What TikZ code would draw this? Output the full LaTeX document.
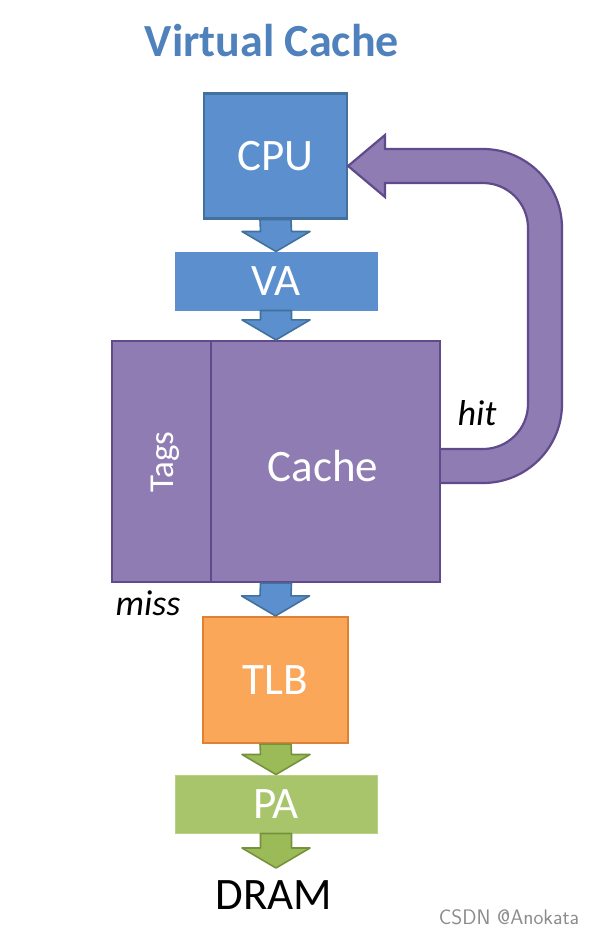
\documentclass[tikz,border=0pt]{standalone}
\usepackage{fontspec}
\setmainfont{Carlito}
\usepackage{tikz}
\usetikzlibrary{positioning,calc}

\definecolor{cpublue}{RGB}{91,143,206}
\definecolor{cpuedge}{RGB}{65,113,156}
\definecolor{titleblue}{RGB}{79,129,189}
\definecolor{cachepurple}{RGB}{142,124,179}
\definecolor{cacheedge}{RGB}{95,75,139}
\definecolor{tlborange}{RGB}{250,167,90}
\definecolor{tlbedge}{RGB}{224,128,50}
\definecolor{pagreen}{RGB}{168,197,108}
\definecolor{paedge}{RGB}{184,210,130}
\definecolor{arrgreen}{RGB}{155,187,89}
\definecolor{arrgreenedge}{RGB}{118,146,60}

\tikzset{
  box/.style={draw, line width=2.2pt, inner sep=0pt, text=white, font=\fontsize{45}{45}\selectfont},
  bar/.style={draw, line width=1pt, inner sep=0pt, text=white, font=\fontsize{45}{45}\selectfont,
    minimum width=202pt, minimum height=58pt},
  bluearr/.style={fill=cpublue, draw=cpuedge, line width=1.6pt, line join=round},
  greenarr/.style={fill=arrgreen, draw=arrgreenedge, line width=1.6pt, line join=round},
  lbl/.style={font=\fontsize{36}{36}\selectfont\itshape}
}

% block arrow pointing down from one node to the next
\newcommand{\blkarrow}[3]{%
  \path[#3] ($(#1.south)+(-15.5,0)$) -- ($(#2.north)+(-15.5,-20)$)
    -- ($(#2.north)+(-34,-20)$) -- (#2.north) -- ($(#2.north)+(34,-20)$)
    -- ($(#2.north)+(15.5,-20)$) -- ($(#1.south)+(15.5,0)$) -- cycle;}

\begin{document}
\begin{tikzpicture}[x=1pt, y=-1pt]
  \useasboundingbox (0,0) rectangle (595,935);

  % title
  \node[text=titleblue, font=\fontsize{46}{46}\selectfont\bfseries] (title) at (272,41) {Virtual Cache};

  % boxes
  \node[box, fill=cpublue, draw=cpuedge, minimum width=143pt, minimum height=125pt] (cpu) at (275.5,156) {CPU};
  \node[bar, fill=cpublue, draw=cpublue] (va) at (276,281) {VA};
  \node[box, fill=cachepurple, draw=cacheedge, minimum width=328pt, minimum height=241pt] (cache) at (276,461.5) {};
  \node[text=white, font=\fontsize{45}{45}\selectfont] (data) at (323,466) {Cache};
  \draw[cacheedge, line width=2.2pt] (211,341) -- (211,582);
  \node[text=white, rotate=90, font=\fontsize{35}{35}\selectfont] (tags) at (165,462) {Tags};
  \node[box, fill=tlborange, draw=tlbedge, minimum width=145pt, minimum height=126pt] (tlb) at (275.5,680) {TLB};
  \node[bar, fill=pagreen, draw=paedge] (pa) at (276,804) {PA};
  \node[font=\fontsize{45}{45}\selectfont] (dram) at (274,895) {DRAM};

  % labels
  \node[lbl] (hit) at (477,413) {hit};
  \node[lbl] (miss) at (148,603) {miss};

  % down arrows
  \blkarrow{cpu}{va}{bluearr}
  \blkarrow{va}{cache}{bluearr}
  \blkarrow{cache}{tlb}{bluearr}
  \blkarrow{tlb}{pa}{greenarr}
  \coordinate (dramtop) at (276,868);
  \path[greenarr] ($(pa.south)+(-15.5,0)$) -- ($(dramtop)+(-15.5,-20)$)
    -- ($(dramtop)+(-34,-20)$) -- (dramtop) -- ($(dramtop)+(34,-20)$)
    -- ($(dramtop)+(15.5,-20)$) -- ($(pa.south)+(15.5,0)$) -- cycle;

  % hit arrow back to the CPU
  \path[fill=cachepurple, draw=cacheedge, line width=2.2pt, line join=miter]
    ($(cache.east)+(0,-12.5)$) -- (483,449) arc[start angle=90, end angle=0, radius=45]
    -- (528,228) arc[start angle=0, end angle=-90, radius=45]
    -- (385,183) -- (385,197) -- (cpu.east |- 0,166) -- (385,135) -- (385,149)
    -- (483,149) arc[start angle=-90, end angle=0, radius=79]
    -- (562,404) arc[start angle=0, end angle=90, radius=79]
    -- ($(cache.east)+(0,21.5)$);

  % watermark
  \node[text=black!45, font=\sffamily\fontsize{21}{21}\selectfont] (mark) at (509,917) {CSDN @Anokata};
\end{tikzpicture}
\end{document}
